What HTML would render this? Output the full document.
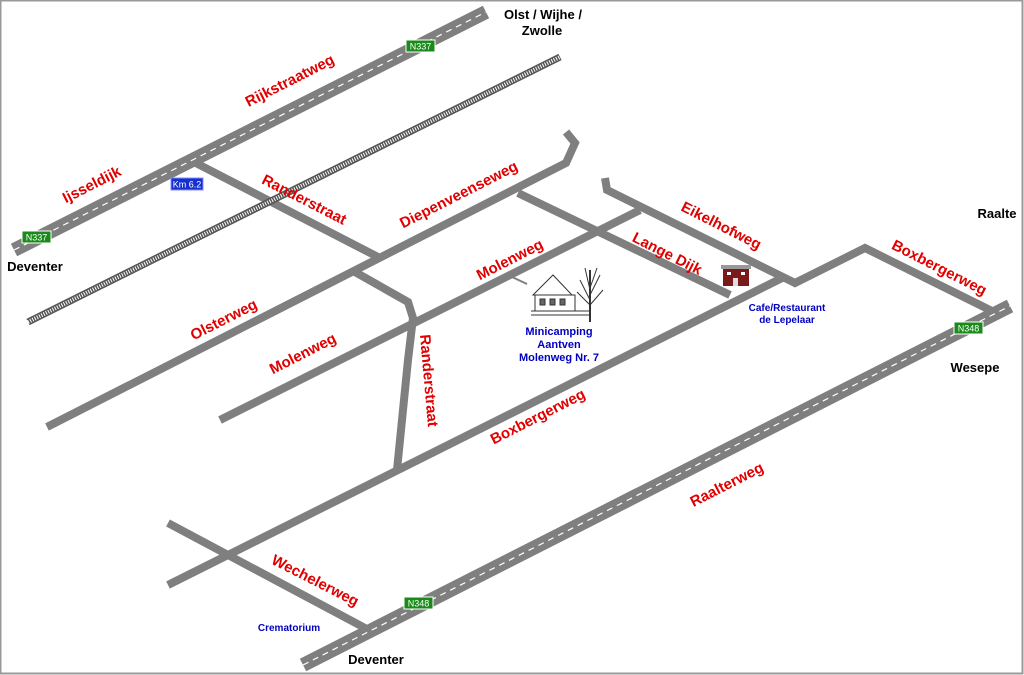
<!DOCTYPE html>
<html><head><meta charset="utf-8"><style>
body{margin:0;background:#fff}
svg{display:block}
.r{fill:#e00000;font-family:"Comic Sans MS","Liberation Sans",sans-serif;font-weight:bold;font-size:15px;text-anchor:middle}
.k{fill:#000;font-family:"Comic Sans MS","Liberation Sans",sans-serif;font-weight:bold;font-size:13px;text-anchor:middle}
.b{fill:#0000c0;font-family:"Comic Sans MS","Liberation Sans",sans-serif;font-weight:bold;font-size:11px;text-anchor:middle}
.s{fill:#fff;font-family:"Liberation Sans",sans-serif;font-size:9px;text-anchor:middle}
</style></head><body>
<svg width="1024" height="675" viewBox="0 0 1024 675" xmlns="http://www.w3.org/2000/svg">
<rect x="0.5" y="0.5" width="1022" height="673" fill="#fff" stroke="#999" stroke-width="2"/>
<g stroke="#7f7f7f" stroke-width="8" fill="none" stroke-linejoin="miter">
<polyline points="190,160 380,258"/>
<polyline points="47,427 566,163 575,143 566,132"/>
<polyline points="355,272 408,302 413,318 408,360 397,470"/>
<polyline points="220,420 640,210"/>
<polyline points="518,193 730,295"/>
<polyline points="605,178 607,190 795,283 865,248 1000,315"/>
<polyline points="168,585 782,278"/>
<polyline points="168,523 365,628"/>
<polyline points="512,277 527,284" stroke-width="2"/>
</g>
<!-- railway -->
<line x1="28" y1="322" x2="560" y2="57" stroke="#555" stroke-width="7"/>
<line x1="28" y1="322" x2="560" y2="57" stroke="#fff" stroke-width="4" stroke-dasharray="1 1.5"/>
<!-- N337 -->
<line x1="14" y1="250" x2="486" y2="12" stroke="#7f7f7f" stroke-width="14"/>
<line x1="14" y1="250" x2="486" y2="12" stroke="#fff" stroke-width="1.2" stroke-dasharray="6 5"/>
<!-- N348 -->
<line x1="303" y1="665" x2="1010" y2="306" stroke="#7f7f7f" stroke-width="14"/>
<line x1="303" y1="665" x2="1010" y2="306" stroke="#fff" stroke-width="1.2" stroke-dasharray="6 5"/>
<!-- signs -->
<g><rect x="406" y="40" width="29" height="12" fill="#1a8a1a" stroke="#fff"/><text class="s" x="420.5" y="49.5">N337</text></g>
<g><rect x="22" y="231" width="29" height="12" fill="#1a8a1a" stroke="#fff"/><text class="s" x="36.5" y="240.5">N337</text></g>
<g><rect x="954" y="322" width="29" height="12" fill="#1a8a1a" stroke="#fff"/><text class="s" x="968.5" y="331.5">N348</text></g>
<g><rect x="404" y="597" width="29" height="12" fill="#1a8a1a" stroke="#fff"/><text class="s" x="418.5" y="606.5">N348</text></g>
<g><rect x="171" y="178" width="32" height="12" fill="#1530d0" stroke="#88f"/><text class="s" x="187" y="187.5">Km 6.2</text></g>
<!-- house -->
<g stroke="#333" stroke-width="1" fill="none">
<polygon points="533,295 553,275 572,295" fill="#fff"/>
<rect x="535" y="295" width="40" height="16" fill="#fff"/>
<rect x="540" y="299" width="5" height="6" fill="#666"/><rect x="550" y="299" width="5" height="6" fill="#666"/><rect x="560" y="299" width="5" height="6" fill="#666"/>
<line x1="531" y1="311" x2="590" y2="311"/><line x1="531" y1="315" x2="590" y2="315"/>
<line x1="590" y1="270" x2="590" y2="322" stroke-width="2"/>
<path d="M590 300 L580 280 M590 295 L600 275 M590 290 L585 268 M590 288 L597 268 M590 305 L603 290 M590 305 L577 292"/>
</g>
<!-- cafe -->
<g><rect x="723" y="268" width="26" height="18" fill="#7a1a1a"/><rect x="721" y="265" width="30" height="4" fill="#999"/>
<rect x="727" y="272" width="4" height="3" fill="#fff"/><rect x="741" y="272" width="4" height="3" fill="#fff"/><rect x="733" y="278" width="5" height="8" fill="#ddd"/></g>
<!-- red labels -->
<text class="r" transform="translate(292,85) rotate(-27)">Rijkstraatweg</text>
<text class="r" transform="translate(94,189) rotate(-27)">Ijsseldijk</text>
<text class="r" transform="translate(302,204) rotate(27)">Randerstraat</text>
<text class="r" transform="translate(461,199) rotate(-27)">Diepenveenseweg</text>
<text class="r" transform="translate(226,324) rotate(-27)">Olsterweg</text>
<text class="r" transform="translate(512,264) rotate(-27)">Molenweg</text>
<text class="r" transform="translate(305,358) rotate(-27)">Molenweg</text>
<text class="r" transform="translate(424,381) rotate(85)">Randerstraat</text>
<text class="r" transform="translate(665,258) rotate(27)">Lange Dijk</text>
<text class="r" transform="translate(719,230) rotate(27)">Eikelhofweg</text>
<text class="r" transform="translate(937,272) rotate(27)">Boxbergerweg</text>
<text class="r" transform="translate(540,421) rotate(-27)">Boxbergerweg</text>
<text class="r" transform="translate(729,489) rotate(-27)">Raalterweg</text>
<text class="r" transform="translate(313,585) rotate(27)">Wechelerweg</text>
<!-- black -->
<text class="k" x="543" y="19">Olst / Wijhe /</text>
<text class="k" x="542" y="35">Zwolle</text>
<text class="k" x="35" y="271">Deventer</text>
<text class="k" x="997" y="218">Raalte</text>
<text class="k" x="975" y="372">Wesepe</text>
<text class="k" x="376" y="664">Deventer</text>
<!-- blue -->
<text class="b" x="559" y="335">Minicamping</text>
<text class="b" x="559" y="348">Aantven</text>
<text class="b" x="559" y="361">Molenweg Nr. 7</text>
<text class="b" x="787" y="311" style="font-size:10px">Cafe/Restaurant</text>
<text class="b" x="787" y="323" style="font-size:10px">de Lepelaar</text>
<text class="b" x="289" y="631" style="font-size:10px">Crematorium</text>
</svg>
</body></html>
